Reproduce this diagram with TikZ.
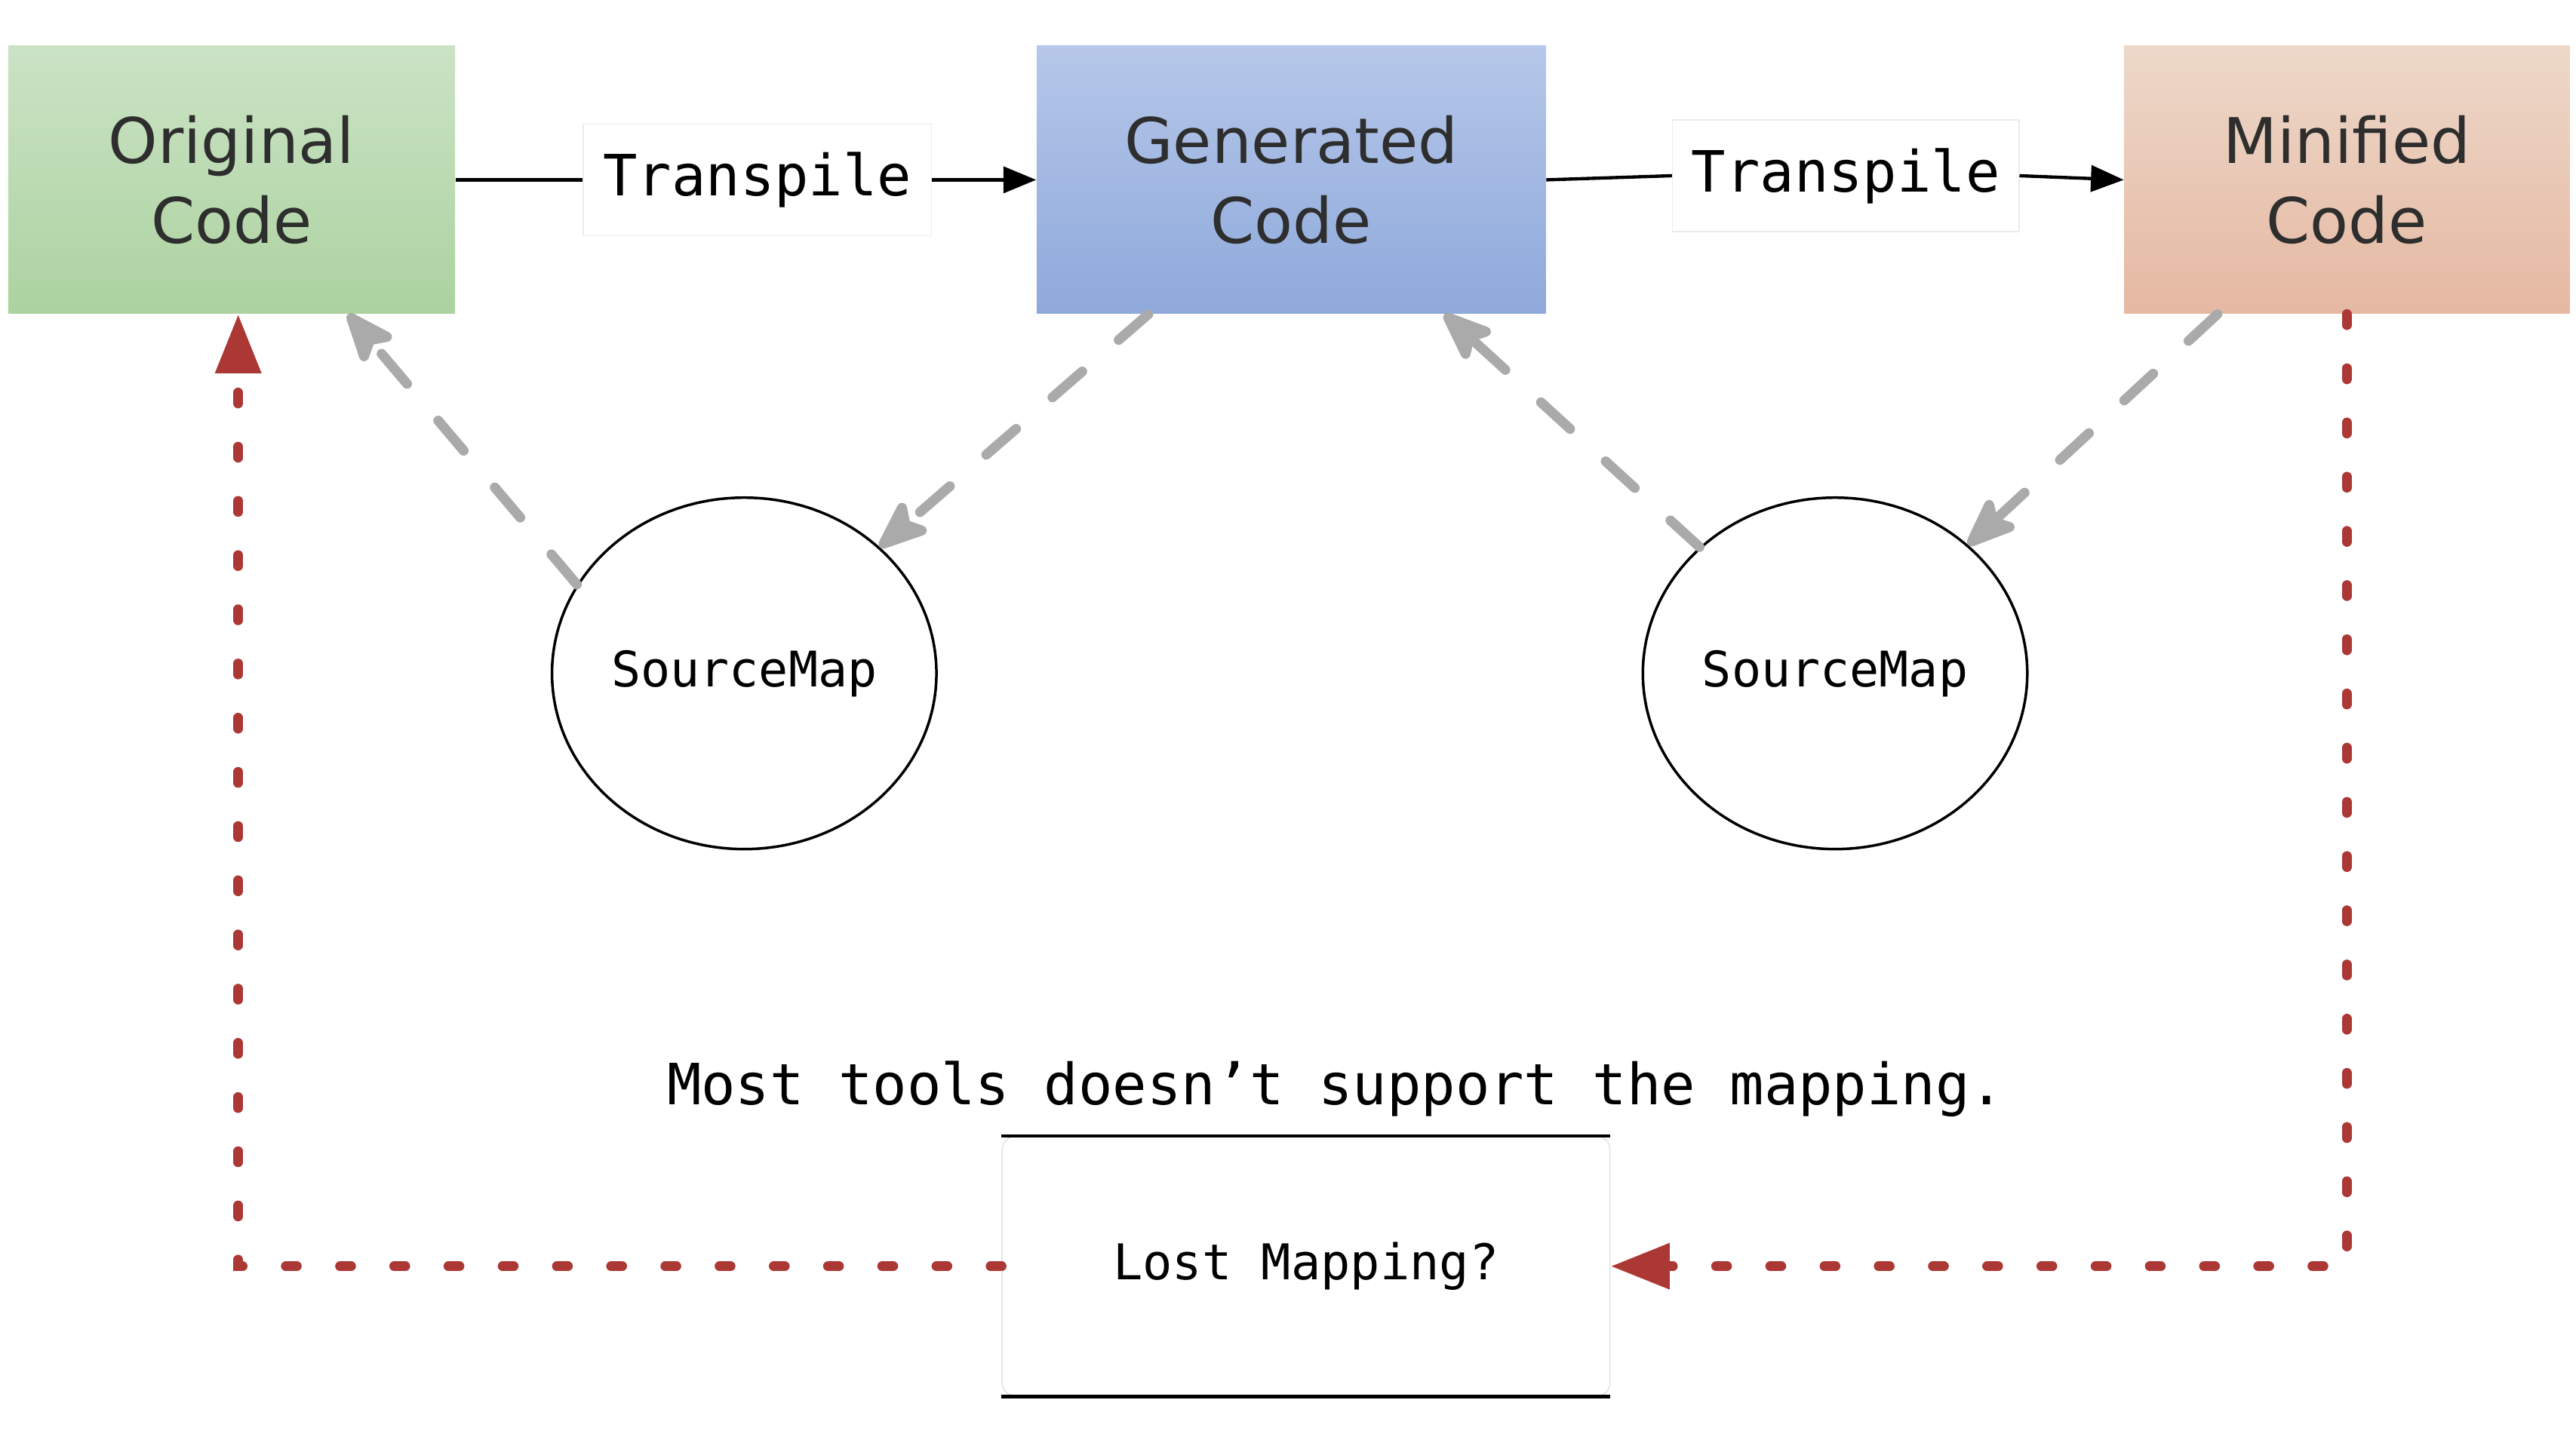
\documentclass[tikz,border=0pt]{standalone}
\usepackage{fontspec}
\setmainfont{DejaVu Sans}
\newfontfamily\codefont{DejaVu Sans Mono}
\usetikzlibrary{arrows.meta,shapes.geometric,calc}

\definecolor{origtop}{RGB}{203,227,197}
\definecolor{origbot}{RGB}{172,210,160}
\definecolor{gentop}{RGB}{182,199,233}
\definecolor{genbot}{RGB}{142,169,219}
\definecolor{minitop}{RGB}{237,216,201}
\definecolor{minibot}{RGB}{229,184,162}
\definecolor{lostred}{RGB}{172,56,54}
\definecolor{mapgray}{RGB}{170,170,170}

\tikzset{
  codebox/.style={rectangle, inner sep=0pt, minimum height=122.25pt, align=center,
    text=black!82, font=\fontsize{28.7}{36.75}\selectfont},
  steplabel/.style={rectangle, draw=black!8, fill=white, inner sep=0pt,
    minimum width=159pt, minimum height=51pt, font=\codefont\fontsize{26}{30}\selectfont},
  mapcircle/.style={ellipse, draw, line width=1.2pt, inner sep=0pt,
    minimum width=175.5pt, minimum height=160.5pt, font=\codefont\fontsize{22.4}{26}\selectfont},
  flow/.style={line width=1.5pt},
  mapline/.style={draw=mapgray, line width=4.5pt, line cap=round,
    dash pattern=on 18pt off 22pt, -{Stealth[length=28pt,width=22pt,inset=6pt,round]}},
  lostline/.style={draw=lostred, line width=4.5pt, line cap=round,
    dash pattern=on 5pt off 19.75pt, -{Triangle[length=27pt,width=20pt]}}
}

\begin{document}
\begin{tikzpicture}[x=0.75pt,y=0.75pt,yscale=-1,xscale=1]
\useasboundingbox (0,0) rectangle (1568,882);

% Code boxes
\node [codebox, minimum width=204pt, top color=origtop, bottom color=origbot] (orig) at (141,109.5) {Original\\Code};
\node [codebox, minimum width=232.5pt, top color=gentop, bottom color=genbot] (gen) at (786,109.5) {Generated\\Code};
\node [codebox, minimum width=203.25pt, top color=minitop, bottom color=minibot] (mini) at (1428.5,109.5) {Minified\\Code};

% Text Node
\node [steplabel] (tr1) at (461,109.5) {Transpile};
% Text Node
\node [steplabel, minimum width=158.25pt] (tr2) at (1123.5,107) {Transpile};

% Source maps
\node [mapcircle] (sm1) at (453,410) {SourceMap};
\node [mapcircle] (sm2) at (1117,410) {SourceMap};

% Text Node
\node [font=\codefont\fontsize{26}{30}\selectfont] (note) at (813,663) {Most tools doesn’t support the mapping.};

% Lost mapping box
\node [rectangle, rounded corners=6pt, draw=black!12, line width=0.5pt, inner sep=0pt,
  minimum width=277.5pt, minimum height=118.5pt, font=\codefont\fontsize{22.5}{26}\selectfont] (lost) at (795,771) {Lost Mapping?};
\draw [line width=1.5pt] (lost.north west) -- (lost.north east);
\draw [line width=1.5pt] (lost.south west) -- (lost.south east);

%Straight Lines
\draw [flow] (orig.east) -- (tr1.west);
\draw [flow, -{Triangle[length=15pt,width=12pt]}] (tr1.east) -- (gen.west);
\draw [flow] (gen.east) -- (tr2.west);
\draw [flow, -{Triangle[length=15pt,width=12pt]}] (tr2.east) -- (mini.west);

%Dashed Lines
\draw [mapline] ($(gen.south west)!0.22!(gen.south east)$) -- (sm1.43);
\draw [mapline] (sm1.152) -- ($(orig.south west)!0.76!(orig.south east)$);
\draw [mapline] (sm2.137) -- ($(gen.south west)!0.8!(gen.south east)$);
\draw [mapline] ($(mini.south west)!0.21!(mini.south east)$) -- (sm2.44);

%Dotted Lines
\draw [lostline] (lost.west) -| ([xshift=3pt]orig.south);
\draw [lostline] (mini.south) |- (lost.east);
\end{tikzpicture}
\end{document}
